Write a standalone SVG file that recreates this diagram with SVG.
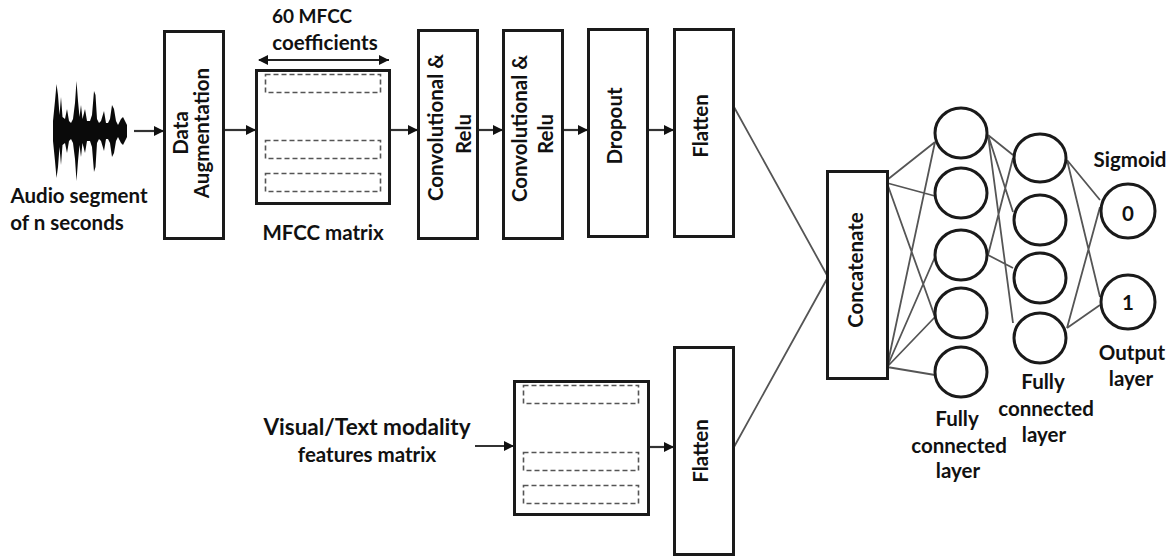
<svg xmlns="http://www.w3.org/2000/svg" width="1175" height="558" viewBox="0 0 1175 558">
<style>
text{font-family:"Lato","Liberation Sans",sans-serif;font-weight:700;font-size:20.500px;fill:#111;text-anchor:middle}
.b{fill:#fff;stroke:#1a1a1a;stroke-width:3}
.d{fill:none;stroke:#555;stroke-width:1.6;stroke-dasharray:5 3}
.c{fill:#fff;stroke:#1a1a1a;stroke-width:3}
.l{stroke:#555;stroke-width:1.8;fill:none}
.a{stroke:#333;stroke-width:2.200;fill:none;marker-end:url(#h)}
</style>
<defs>
<marker id="h" markerUnits="userSpaceOnUse" markerWidth="11" markerHeight="11" refX="10" refY="5" orient="auto"><path d="M0 0L10 5L0 10Z" fill="#111"/></marker>
<marker id="s" markerUnits="userSpaceOnUse" markerWidth="11" markerHeight="11" refX="1" refY="5" orient="auto"><path d="M10 0L0 5L10 10Z" fill="#111"/></marker>
</defs>
<g id="connectors">
<path class="l" d="M734 107L828 277M734 447L828 277"/>
<path class="l" d="M887 180L935 142M887 183L935 196M887 183L935 317M887 367L935 142M887 367L935 257M887 367L935 317M887 367L935 375"/>
<path class="l" d="M988 135L1013 155M988 135L1013 212M988 135L1013 323M988 255L1013 158M988 255L1013 268"/>
<path class="l" d="M1067 160L1100 200M1067 160L1100 297M1067 328L1100 207M1067 328L1100 305"/>
<path class="a" d="M134 131H164"/><path class="a" d="M224 130H256"/><path class="a" d="M389 130H418"/><path class="a" d="M478 130H503"/><path class="a" d="M563 130H588"/><path class="a" d="M648 130H674"/><path class="a" d="M475 446H514"/><path class="a" d="M648 447H674"/>
<path d="M259 60H389" stroke="#222" stroke-width="2" fill="none" marker-start="url(#s)" marker-end="url(#h)"/>
</g>
<g id="audio">
<path d="M53 121L55 101L56.500 84L58 95L59.500 115L61 97L62.500 117L65 119L67 109L69 121L71 123L73 119L75 103L76.500 81L78 101L79.500 117L81 105L82.500 119L85 109L87 121L90 121L92 115L94 91L95.500 95L97 119L99 123L101 121L104 111L106 123L108 123L110 119L112 105L114 109L116 121L118 125L121 119L123 117L125 121L127 125L127 137L125 141L123 145L121 143L118 137L116 141L114 153L112 157L110 143L108 139L106 139L104 151L101 141L99 139L97 143L95.500 167L94 172L92 147L90 141L87 141L85 153L82.500 143L81 157L79.500 145L78 161L76.500 181L75 159L73 143L71 139L69 141L67 153L65 143L62.500 145L61 165L59.500 147L58 167L56.500 178L55 161L53 141Z" fill="#0a0a0a"/>
<text x="79" y="203">Audio segment</text>
<text x="67" y="230">of n seconds</text>
</g>
<g id="augmentation"><rect class="b" x="164.500" y="31.500" width="59" height="207"/><text transform="translate(188 133) rotate(-90)">Data</text><text transform="translate(209 133) rotate(-90)">Augmentation</text></g>
<g id="mfcc"><rect class="b" x="256.500" y="70.500" width="133" height="133"/><rect class="d" x="265.500" y="74.500" width="115" height="18"/><rect class="d" x="265.500" y="140.500" width="115" height="18"/><rect class="d" x="265.500" y="173.500" width="115" height="18"/>
<text x="312" y="23" style="font-size:19px">60 MFCC</text><text x="325" y="50">coefficients</text><text x="323" y="240">MFCC matrix</text></g>
<g id="conv1"><rect class="b" x="418.500" y="30.500" width="59" height="208"/><text transform="translate(443 127.500) rotate(-90)">Convolutional &amp;</text><text transform="translate(471 134) rotate(-90)">Relu</text></g>
<g id="conv2"><rect class="b" x="503.500" y="30.500" width="59" height="208"/><text transform="translate(527 128.500) rotate(-90)">Convolutional &amp;</text><text transform="translate(553 134) rotate(-90)">Relu</text></g>
<g id="dropout"><rect class="b" x="588.500" y="29.500" width="59" height="207"/><text transform="translate(622 126) rotate(-90)">Dropout</text></g>
<g id="flatten1"><rect class="b" x="674.500" y="29.500" width="59" height="207"/><text transform="translate(708 126) rotate(-90)">Flatten</text></g>
<g id="visual"><text x="367" y="435" style="font-size:22.500px">Visual/Text modality</text><text x="367" y="462">features matrix</text></g>
<g id="matrix2"><rect class="b" x="514.500" y="381.500" width="134" height="133"/><rect class="d" x="523.500" y="385.500" width="115" height="18"/><rect class="d" x="523.500" y="452.500" width="115" height="18"/><rect class="d" x="523.500" y="485.500" width="115" height="18"/></g>
<g id="flatten2"><rect class="b" x="674.500" y="347.500" width="59" height="207"/><text transform="translate(708 451) rotate(-90)">Flatten</text></g>
<g id="concatenate"><rect class="b" x="827.500" y="171.500" width="60" height="207"/><text transform="translate(863 270) rotate(-90)">Concatenate</text></g>
<g id="fc1"><ellipse class="c" cx="961" cy="133" rx="26" ry="25"/><ellipse class="c" cx="961" cy="193" rx="26" ry="25"/><ellipse class="c" cx="961" cy="255" rx="26" ry="25"/><ellipse class="c" cx="961" cy="313" rx="26" ry="25"/><ellipse class="c" cx="961" cy="372" rx="26" ry="25"/>
<text x="957" y="426">Fully</text><text x="959" y="453">connected</text><text x="958" y="478">layer</text></g>
<g id="fc2"><ellipse class="c" cx="1040" cy="158" rx="26" ry="24"/><ellipse class="c" cx="1040" cy="220" rx="26" ry="25"/><ellipse class="c" cx="1040" cy="278" rx="26" ry="25"/><ellipse class="c" cx="1040" cy="338" rx="26" ry="25"/>
<text x="1043" y="389">Fully</text><text x="1046" y="416">connected</text><text x="1044" y="442">layer</text></g>
<g id="out0"><circle class="c" cx="1128" cy="211" r="27"/><text x="1128" y="221">0</text><text x="1130" y="167">Sigmoid</text></g>
<g id="out1"><circle class="c" cx="1128" cy="302" r="27"/><text x="1128" y="310">1</text><text x="1132" y="360">Output</text><text x="1131" y="386">layer</text></g>
</svg>
